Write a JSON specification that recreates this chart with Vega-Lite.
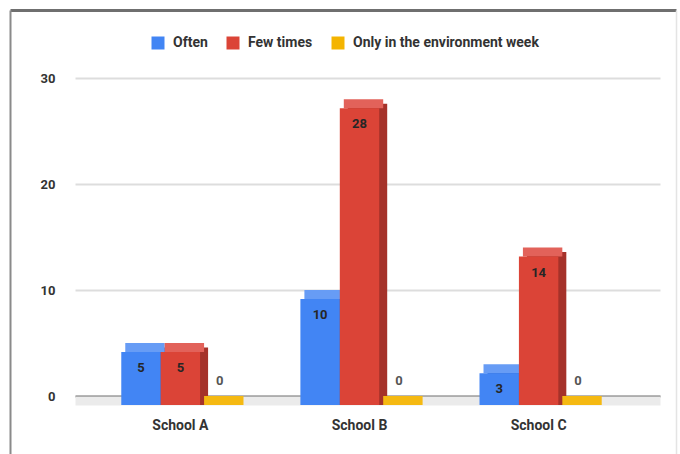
{
  "$schema": "https://vega.github.io/schema/vega-lite/v6.json",
  "width": 666,
  "height": 444,
  "autosize": {"type": "none"},
  "padding": {"left": 10, "top": 10, "right": 4, "bottom": 0},
  "background": "white",
  "config": {
    "view": {"stroke": null},
    "font": "Roboto",
    "axis": {"labelFont": "Roboto", "titleFont": "Roboto"},
    "legend": {"labelFont": "Roboto"}
  },
  "data": {
    "values": [
      {"school": "School A", "series": "Often", "value": 5},
      {"school": "School A", "series": "Few times", "value": 5},
      {"school": "School A", "series": "Only in the environment week", "value": 0},
      {"school": "School B", "series": "Often", "value": 10},
      {"school": "School B", "series": "Few times", "value": 28},
      {"school": "School B", "series": "Only in the environment week", "value": 0},
      {"school": "School C", "series": "Often", "value": 3},
      {"school": "School C", "series": "Few times", "value": 14},
      {"school": "School C", "series": "Only in the environment week", "value": 0}
    ]
  },
  "layer": [
    {
      "description": "Outer frame: top and left edges",
      "mark": {"type": "point", "opacity": 0},
      "encoding": {
        "x": {
          "field": "school", "type": "nominal",
          "axis": {"orient": "top", "domain": true, "domainColor": "#6f6f6f", "domainWidth": 3, "labels": false, "ticks": false, "grid": false, "title": null}
        },
        "y": {
          "field": "value", "type": "quantitative",
          "axis": {"orient": "left", "domain": true, "domainColor": "#8a8a8a", "domainWidth": 2, "labels": false, "ticks": false, "grid": false, "title": null}
        }
      }
    },
    {
      "description": "Outer frame: faint right edge",
      "mark": {"type": "point", "opacity": 0},
      "encoding": {
        "x": {"field": "school", "type": "nominal", "axis": null},
        "y": {
          "field": "value", "type": "quantitative",
          "axis": {"orient": "right", "domain": true, "domainColor": "#e4e4e4", "domainWidth": 1.5, "labels": false, "ticks": false, "grid": false, "title": null}
        }
      }
    },
    {
      "encoding": {
        "xOffset": {
          "field": "series", "type": "nominal",
          "scale": {"type": "band", "domain": ["Often", "Few times", "Only in the environment week"], "paddingInner": 0, "paddingOuter": 0}
        },
        "y": {
          "field": "value", "type": "quantitative", "stack": null,
          "scale": {"domain": [0, 30], "range": [386, 68], "nice": false},
          "axis": {
            "orient": "left", "offset": -45, "title": null, "values": [0, 10, 20, 30],
            "domain": false, "ticks": false, "labelPadding": 0,
            "labelFontSize": 13, "labelFontWeight": "bold", "labelColor": "#333333",
            "grid": true,
            "gridColor": {"condition": {"test": "datum.value === 0", "value": "#6e6e6e"}, "value": "#dddddd"},
            "gridWidth": 2
          }
        }
      },
      "layer": [
        {
          "description": "Back plane: carries the category axis and the floor",
          "mark": {"type": "bar", "opacity": 0},
          "encoding": {
            "x": {
              "field": "school", "type": "nominal",
              "scale": {"range": [65, 650], "paddingInner": 0.34, "paddingOuter": 0.303},
              "axis": {
                "orient": "bottom", "offset": -53.5, "title": null, "grid": false,
                "domain": true, "domainColor": "#ebebeb", "domainWidth": 9,
                "ticks": false, "labelAngle": 0, "labelOffset": -8, "labelPadding": 18,
                "labelFontSize": 14, "labelFontWeight": "bold", "labelColor": "#333333"
              }
            },
            "y2": {"datum": 0}
          }
        },
        {
          "description": "Side faces of the 3D bars",
          "transform": [{"filter": "datum.value > 0"}],
          "mark": {"type": "bar", "yOffset": 4.5, "y2Offset": 9},
          "encoding": {
            "x": {
              "field": "school", "type": "nominal",
              "scale": {"range": [65, 650], "paddingInner": 0.34, "paddingOuter": 0.303},
              "axis": null
            },
            "y2": {"datum": 0},
            "color": {
              "field": "series", "type": "nominal",
              "scale": {"domain": ["Often", "Few times", "Only in the environment week"], "range": ["#2f66c4", "#a5322a", "#c18f00"]},
              "legend": null
            }
          }
        },
        {
          "description": "Top faces of the 3D bars: a fixed-depth strip at each bar's value",
          "mark": {"type": "bar", "y2Offset": 9},
          "encoding": {
            "x": {
              "field": "school", "type": "nominal",
              "scale": {"range": [61, 646], "paddingInner": 0.34, "paddingOuter": 0.303},
              "axis": null
            },
            "y2": {"field": "value"},
            "color": {
              "field": "series", "type": "nominal",
              "scale": {"domain": ["Often", "Few times", "Only in the environment week"], "range": ["#679cf5", "#e2625a", "#f5b912"]},
              "legend": null
            }
          }
        },
        {
          "description": "Front faces of the 3D bars",
          "mark": {"type": "bar", "yOffset": 9, "y2Offset": 9},
          "encoding": {
            "x": {
              "field": "school", "type": "nominal",
              "scale": {"range": [57, 642], "paddingInner": 0.34, "paddingOuter": 0.303},
              "axis": null
            },
            "y2": {"datum": 0},
            "color": {
              "field": "series", "type": "nominal",
              "scale": {"domain": ["Often", "Few times", "Only in the environment week"], "range": ["#4285f4", "#db4437", "#f4b400"]},
              "legend": {
                "orient": "none", "legendX": 141, "legendY": 26, "direction": "horizontal",
                "title": null, "padding": 0, "symbolType": "square", "symbolSize": 169,
                "symbolStrokeWidth": 0, "labelFontSize": 14, "labelFontWeight": "bold",
                "labelColor": "#333333", "labelOffset": 8, "columnPadding": 18, "labelLimit": 400
              }
            }
          }
        },
        {
          "description": "Value labels inside the bars",
          "transform": [{"filter": "datum.value > 0"}],
          "mark": {"type": "text", "dy": 25, "baseline": "middle", "align": "center", "font": "Roboto", "fontSize": 13, "fontWeight": "bold", "color": "#262626"},
          "encoding": {
            "x": {
              "field": "school", "type": "nominal",
              "scale": {"range": [57, 642], "paddingInner": 0.34, "paddingOuter": 0.303},
              "axis": null
            },
            "text": {"field": "value", "type": "quantitative"}
          }
        },
        {
          "description": "Labels for zero-height bars",
          "transform": [{"filter": "datum.value === 0"}],
          "mark": {"type": "text", "dy": -15, "baseline": "middle", "align": "center", "font": "Roboto", "fontSize": 13, "fontWeight": "bold", "color": "#555555"},
          "encoding": {
            "x": {
              "field": "school", "type": "nominal",
              "scale": {"range": [57, 642], "paddingInner": 0.34, "paddingOuter": 0.303},
              "axis": null
            },
            "text": {"field": "value", "type": "quantitative"}
          }
        }
      ],
      "resolve": {
        "scale": {"color": "independent", "x": "independent", "xOffset": "independent"},
        "axis": {"x": "independent"}
      }
    }
  ],
  "resolve": {
    "scale": {"x": "independent", "y": "independent"},
    "axis": {"x": "independent", "y": "independent"}
  }
}
